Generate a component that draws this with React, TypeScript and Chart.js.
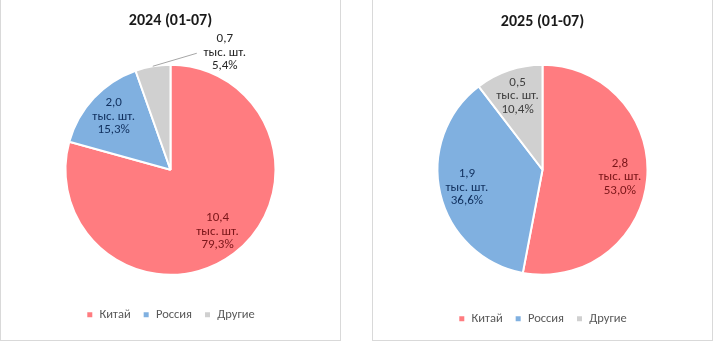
import React, { useEffect, useRef } from "react";
import { Chart, registerables } from "chart.js";

Chart.register(...registerables);

const categories = ["Китай", "Россия", "Другие"];
const title2024 = "2024 (01-07)";
const title2025 = "2025 (01-07)";
const share2024 = [79.3, 15.3, 5.4];
const thousands2024 = ["10,4", "2,0", "0,7"];
const share2025 = [53.0, 36.6, 10.4];
const thousands2025 = ["2,8", "1,9", "0,5"];
const unitLabel = "тыс. шт.";

const sliceColors = ["#FF7C80", "#80B0E0", "#D0D0D0"];
const labelColors = ["#7A1518", "#10305E", "#404040"];
const FONT = "Carlito, Calibri, Lato, 'Noto Sans', sans-serif";

const fmtPct = (v: number) => v.toFixed(1).replace(".", ",") + "%";

const pieLabels = {
  id: "pieLabels",
  afterDatasetsDraw(chart: any, _args: any, opts: any) {
    const ctx = chart.ctx;
    const meta = chart.getDatasetMeta(0);
    const ds = chart.data.datasets[0];
    meta.data.forEach((arc: any, i: number) => {
      const { x, y, startAngle, endAngle, outerRadius } = arc.getProps(
        ["x", "y", "startAngle", "endAngle", "outerRadius"],
        true
      );
      const mid = (startAngle + endAngle) / 2;
      const outside = opts.outside ? opts.outside[i] : null;
      let cx: number, cy: number;
      ctx.save();
      if (outside) {
        const ax = x + Math.cos(mid) * outerRadius;
        const ay = y + Math.sin(mid) * outerRadius;
        cx = ax + outside.dx;
        cy = ay + outside.dy;
        ctx.strokeStyle = "#A6A6A6";
        ctx.lineWidth = 1;
        ctx.beginPath();
        ctx.moveTo(ax, ay);
        ctx.lineTo(cx + outside.lx, cy + outside.ly);
        ctx.stroke();
      } else {
        const r = outerRadius * opts.radial;
        cx = x + Math.cos(mid) * r;
        cy = y + Math.sin(mid) * r;
      }
      const lines = [opts.values[i], unitLabel, fmtPct(ds.data[i])];
      ctx.font = `13px ${FONT}`;
      ctx.fillStyle = outside ? "#262626" : labelColors[i];
      ctx.textAlign = "center";
      ctx.textBaseline = "middle";
      const lh = 13.5;
      lines.forEach((t: string, k: number) => {
        ctx.fillText(t, cx, cy + (k - 1) * lh);
      });
      ctx.restore();
    });
  },
};

type PanelProps = {
  title: string;
  shares: number[];
  values: string[];
  left: number;
  titleTop: number;
  titleBottom: number;
  padBottom: number;
  outside?: any;
};

function PiePanel(p: PanelProps) {
  const ref = useRef<HTMLCanvasElement | null>(null);
  useEffect(() => {
    if (!ref.current) return;
    const chart = new Chart(ref.current, {
      type: "pie",
      data: {
        labels: categories,
        datasets: [
          {
            data: p.shares,
            backgroundColor: sliceColors,
            borderColor: "#FFFFFF",
            borderWidth: 2,
            radius: 105,
          } as any,
        ],
      },
      options: {
        responsive: false,
        animation: false,
        layout: { padding: { top: 0, left: 0, right: 0, bottom: p.padBottom } },
        plugins: {
          title: {
            display: true,
            text: p.title,
            color: "#1A1A1A",
            font: { family: FONT, size: 16, weight: "bold" },
            padding: { top: p.titleTop, bottom: p.titleBottom },
          },
          legend: {
            position: "bottom",
            labels: {
              boxWidth: 7,
              boxHeight: 7,
              padding: 12,
              color: "#595959",
              font: { family: FONT, size: 12.5 },
            },
          },
          tooltip: { enabled: false },
          pieLabels: { values: p.values, radial: 0.74, outside: p.outside },
        } as any,
      },
      plugins: [pieLabels],
    });
    return () => chart.destroy();
  }, []);
  return (
    <div
      style={{
        position: "absolute",
        left: p.left,
        top: -1,
        width: 339,
        height: 340,
        border: "1px solid #D9D9D9",
        background: "#FFFFFF",
      }}
    >
      <canvas ref={ref} width={339} height={340} style={{ display: "block" }} />
    </div>
  );
}

export default function App() {
  return (
    <div
      style={{
        position: "absolute",
        left: 0,
        top: 0,
        width: 714,
        height: 342,
        background: "#FFFFFF",
        overflow: "hidden",
      }}
    >
      <PiePanel
        title={title2024}
        shares={share2024}
        values={thousands2024}
        left={0}
        titleTop={11.4}
        titleBottom={12.4}
        padBottom={9}
        outside={[null, null, { dx: 72, dy: -14, lx: -28, ly: 1 }]}
      />
      <PiePanel
        title={title2025}
        shares={share2025}
        values={thousands2025}
        left={372}
        titleTop={12.4}
        titleBottom={7.4}
        padBottom={5}
      />
    </div>
  );
}
